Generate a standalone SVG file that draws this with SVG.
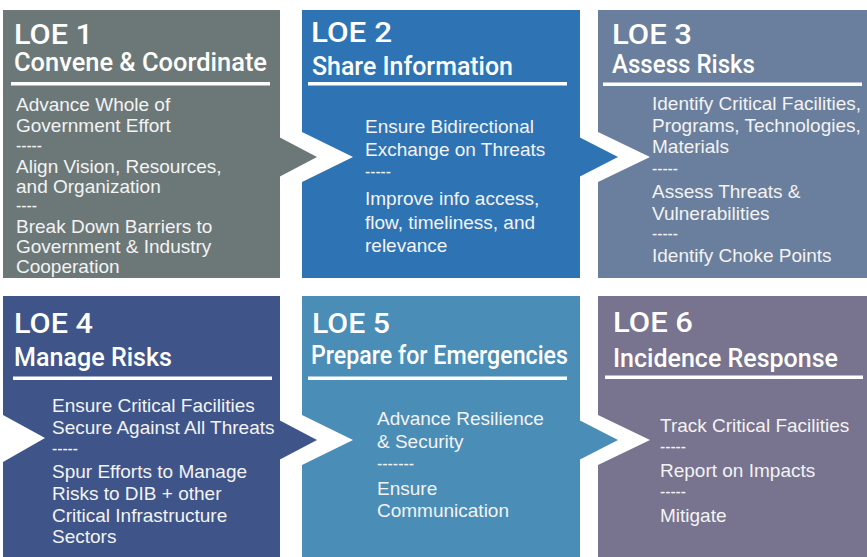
<svg xmlns="http://www.w3.org/2000/svg" width="867" height="557" viewBox="0 0 867 557">
<style>
.t1{font-family:Roboto,"Liberation Sans",sans-serif;font-weight:500;font-size:28px;fill:#ffffff}
.t2{font-family:Roboto,"Liberation Sans",sans-serif;font-weight:500;font-size:26px;fill:#ffffff}
.b{font-family:"Liberation Sans",Arial,sans-serif;font-size:19px;fill:#f3f3f3}
.ul{fill:#ffffff}
</style>
<rect width="867" height="557" fill="#ffffff"/>
<g id="loe1">
<path d="M3,10 H280 V278 H3 Z" fill="#6c7878"/>
<text class="t1" x="14" y="44" textLength="79" lengthAdjust="spacingAndGlyphs">LOE 1</text>
<text class="t2" x="14" y="71" textLength="253" lengthAdjust="spacingAndGlyphs">Convene &amp; Coordinate</text>
<rect class="ul" x="11" y="82" width="259" height="3.5"/>
<text class="b"><tspan x="16" y="111">Advance Whole of</tspan><tspan x="16" y="132">Government Effort</tspan><tspan x="16" y="152" textLength="26" lengthAdjust="spacingAndGlyphs">-----</tspan><tspan x="16" y="173">Align Vision, Resources,</tspan><tspan x="16" y="193">and Organization</tspan><tspan x="16" y="212" textLength="21" lengthAdjust="spacingAndGlyphs">----</tspan><tspan x="16" y="233">Break Down Barriers to</tspan><tspan x="16" y="253">Government &amp; Industry</tspan><tspan x="16" y="273">Cooperation</tspan></text>
</g>
<g id="loe2">
<path d="M302,10 H580 V278 H302 V182 L353,157 L302,132 Z" fill="#2e74b5"/>
<text class="t1" x="311" y="42" textLength="81" lengthAdjust="spacingAndGlyphs">LOE 2</text>
<text class="t2" x="312" y="75" textLength="201" lengthAdjust="spacingAndGlyphs">Share Information</text>
<rect class="ul" x="308" y="82" width="259" height="3.5"/>
<text class="b"><tspan x="365" y="133">Ensure Bidirectional</tspan><tspan x="365" y="156">Exchange on Threats</tspan><tspan x="365" y="178" textLength="26" lengthAdjust="spacingAndGlyphs">-----</tspan><tspan x="365" y="205">Improve info access,</tspan><tspan x="365" y="229">flow, timeliness, and</tspan><tspan x="365" y="252">relevance</tspan></text>
</g>
<g id="loe3">
<path d="M598,10 H867 V278 H598 V182 L650,157 L598,132 Z" fill="#6a7f9d"/>
<text class="t1" x="612" y="44" textLength="80" lengthAdjust="spacingAndGlyphs">LOE 3</text>
<text class="t2" x="612" y="73" textLength="143" lengthAdjust="spacingAndGlyphs">Assess Risks</text>
<rect class="ul" x="603" y="82.5" width="259" height="3.5"/>
<text class="b"><tspan x="652" y="110">Identify Critical Facilities,</tspan><tspan x="652" y="132">Programs, Technologies,</tspan><tspan x="652" y="153">Materials</tspan><tspan x="652" y="175" textLength="26" lengthAdjust="spacingAndGlyphs">-----</tspan><tspan x="652" y="198">Assess Threats &amp;</tspan><tspan x="652" y="220">Vulnerabilities</tspan><tspan x="652" y="240" textLength="26" lengthAdjust="spacingAndGlyphs">-----</tspan><tspan x="652" y="262">Identify Choke Points</tspan></text>
</g>
<g id="loe4">
<path d="M3,296 H280 V557 H3 V462 L45,438 L3,415 Z" fill="#3f558a"/>
<text class="t1" x="14" y="333" textLength="79" lengthAdjust="spacingAndGlyphs">LOE 4</text>
<text class="t2" x="14" y="366" textLength="158" lengthAdjust="spacingAndGlyphs">Manage Risks</text>
<rect class="ul" x="13" y="376.5" width="259" height="3.5"/>
<text class="b"><tspan x="52" y="412">Ensure Critical Facilities</tspan><tspan x="52" y="434">Secure Against All Threats</tspan><tspan x="52" y="455" textLength="26" lengthAdjust="spacingAndGlyphs">-----</tspan><tspan x="52" y="478">Spur Efforts to Manage</tspan><tspan x="52" y="500">Risks to DIB + other</tspan><tspan x="52" y="522">Critical Infrastructure</tspan><tspan x="52" y="543">Sectors</tspan></text>
</g>
<g id="loe5">
<path d="M302,296 H580 V557 H302 V465 L353,440 L302,415 Z" fill="#4a8db7"/>
<text class="t1" x="312" y="333" textLength="78" lengthAdjust="spacingAndGlyphs">LOE 5</text>
<text class="t2" x="311" y="364" textLength="257" lengthAdjust="spacingAndGlyphs">Prepare for Emergencies</text>
<rect class="ul" x="308" y="376.5" width="259" height="3.5"/>
<text class="b"><tspan x="377" y="425">Advance Resilience</tspan><tspan x="377" y="448">&amp; Security</tspan><tspan x="377" y="470" textLength="37" lengthAdjust="spacingAndGlyphs">-------</tspan><tspan x="377" y="495">Ensure</tspan><tspan x="377" y="517">Communication</tspan></text>
</g>
<g id="loe6">
<path d="M598,296 H867 V557 H598 V465 L650,440 L598,415 Z" fill="#78738f"/>
<text class="t1" x="613" y="332" textLength="80" lengthAdjust="spacingAndGlyphs">LOE 6</text>
<text class="t2" x="613" y="367" textLength="225" lengthAdjust="spacingAndGlyphs">Incidence Response</text>
<rect class="ul" x="605" y="375.5" width="258" height="3.5"/>
<text class="b"><tspan x="660" y="432">Track Critical Facilities</tspan><tspan x="660" y="453" textLength="26" lengthAdjust="spacingAndGlyphs">-----</tspan><tspan x="660" y="477">Report on Impacts</tspan><tspan x="660" y="498" textLength="26" lengthAdjust="spacingAndGlyphs">-----</tspan><tspan x="660" y="522">Mitigate</tspan></text>
</g>
<g id="connectors">
<path d="M279,137 L317,157 L279,177 Z" fill="#6c7878"/>
<path d="M579,137 L618,157 L579,177 Z" fill="#2e74b5"/>
<path d="M279,420 L317,440 L279,460 Z" fill="#3f558a"/>
<path d="M579,420 L618,440 L579,460 Z" fill="#4a8db7"/>
</g>
</svg>
